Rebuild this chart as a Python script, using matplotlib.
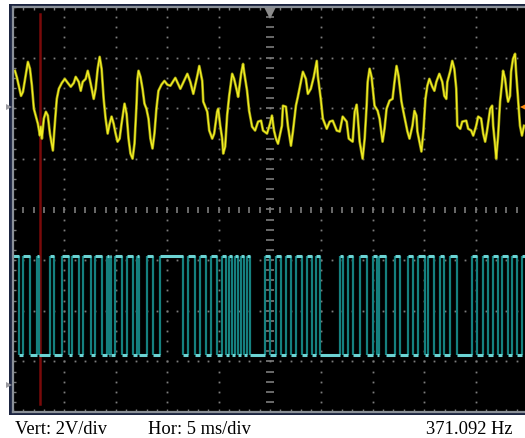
import matplotlib
matplotlib.use("Agg")
import matplotlib.pyplot as plt
import numpy as np

# ---------------- data ----------------
# Channel 1 (yellow) : time in ms, voltage in V (2 V/div, ground 2 div above centre)
ch1_t = [0.19, 0.39, 0.78, 0.97, 1.45, 1.65, 1.84, 2.03, 2.23, 2.42, 2.62, 2.71, 2.81, 3.00, 3.20,
         3.39, 3.59, 3.88, 4.07, 4.26, 4.46, 4.75, 5.04, 5.33, 5.62, 5.91, 6.10, 6.40, 6.59, 6.78,
         7.07, 7.27, 7.46, 7.66, 7.85, 8.04, 8.24, 8.43, 8.62, 8.82, 9.01, 9.21, 9.40, 9.59, 9.79,
         9.98, 10.17, 10.37, 10.56, 10.85, 11.05, 11.24, 11.43, 11.63, 11.82, 12.02, 12.11, 12.21,
         12.40, 12.60, 12.79, 12.98, 13.18, 13.37, 13.57, 13.76, 13.95, 14.15, 14.44, 14.73, 15.02,
         15.31, 15.79, 16.28, 16.96, 17.25, 17.54, 17.93, 18.12, 18.41, 18.51, 18.90, 19.09, 19.38,
         19.57, 19.86, 19.96, 20.16, 20.35, 20.45, 20.64, 20.83, 21.03, 21.32, 21.51, 21.80, 21.90,
         22.19, 22.38, 22.48, 22.77, 22.97, 23.26, 23.55, 23.84, 24.13, 24.32, 24.71, 25.00, 25.19,
         25.39, 25.58, 25.78, 26.16, 26.26, 26.55, 26.74, 27.04, 27.23, 27.52, 27.71, 28.00, 28.20,
         28.49, 28.68, 28.97, 29.26, 29.55, 29.65, 29.94, 30.14, 30.52, 30.81, 31.10, 31.49, 31.78,
         32.07, 32.46, 32.66, 33.04, 33.24, 33.43, 33.53, 33.72, 34.01, 34.21, 34.40, 34.50, 34.69,
         34.88, 35.17, 35.47, 35.66, 35.95, 36.14, 36.34, 36.63, 36.92, 37.11, 37.31, 37.50, 37.79,
         37.98, 38.18, 38.37, 38.57, 38.86, 39.05, 39.24, 39.34, 39.54, 39.73, 39.92, 40.12, 40.31,
         40.50, 40.79, 40.99, 41.18, 41.47, 41.76, 41.96, 42.15, 42.25, 42.54, 42.73, 42.93, 43.12,
         43.22, 43.51, 43.70, 44.09, 44.28, 44.57, 44.77, 45.06, 45.25, 45.54, 45.74, 45.93, 46.12,
         46.42, 46.61, 46.71, 46.90, 47.00, 47.19, 47.38, 47.58, 47.67, 47.87, 48.06, 48.16, 48.35,
         48.45, 48.64, 48.84, 48.93, 49.13, 49.32, 49.51, 49.71]
ch1_v = [1.42, 1.14, 0.43, 0.59, 1.77, 1.50, 0.83, -0.08, -0.39, -0.67, -1.14, -0.79, -1.26, -0.47, -0.20,
         -0.35, -1.06, -1.73, -0.67, 0.31, 0.71, 0.94, 1.10, 0.94, 0.79, 0.94, 1.18, 0.98, 0.63, 0.98,
         1.10, 1.42, 1.10, 0.71, 0.31, 0.71, 1.50, 1.97, 1.50, 0.31, -0.47, -1.06, -0.67, -0.39, -0.67,
         -1.06, -1.38, -1.26, -0.67, 0.12, -0.28, -1.26, -1.85, -2.05, -1.46, 0.12, 1.10, 1.42,
         1.18, 0.71, 0.12, -0.08, -0.47, -1.26, -1.65, -1.06, -0.08, 0.63, 0.87, 1.02, 0.87,
         0.83, 1.14, 0.71, 1.30, 0.98, 0.51, 1.22, 1.61, 1.02, 0.20, -0.20, -0.94, -1.26,
         -1.06, -0.20, -0.08, -0.75, -1.26, -1.85, -1.57, -0.35, 0.43, 1.30, 1.10, 0.59, 0.39,
         1.30, 1.69, 1.38, 0.63, -0.16, -0.79, -0.94, -0.59, -0.55, -0.94, -1.06, -0.67, -0.35,
         -0.94, -1.26, -1.46, -0.75, 0.04, 0.00, -0.75, -1.54, -0.98, 0.04, 0.39, 0.98, 1.38,
         1.10, 0.51, 0.71, 1.18, 1.81, 1.22, 0.31, -0.47, -0.87, -0.59, -0.55, -0.94, -0.98,
         -0.39, -0.59, -1.26, -1.38, -0.20, 0.08, -0.35, -1.38, -2.05, -1.26, 0.04, 0.98, 1.50,
         1.18, 0.04, -0.16, -0.47, -1.38, -0.87, -0.08, 0.24, 0.31, 0.98, 1.61, 1.22, 0.20,
         -0.20, -0.59, -0.98, -1.26, -0.75, -0.16, -0.35, -0.98, -1.38, -1.77, -0.98, 0.31, 0.83,
         1.10, 0.79, 0.63, 0.98, 1.30, 0.98, 0.43, 0.31, 0.98, 1.42, 1.81, 1.50, 0.71,
         -0.75, -0.87, -0.59, -0.55, -0.87, -0.94, -1.14, -0.75, -0.39, -0.47, -1.06, -1.38, -0.94,
         -0.08, 0.04, -0.75, -1.54, -2.05, -1.14, 0.20, 0.98, 1.42, 1.10, 0.43, 0.20, 0.43,
         1.38, 1.89, 2.09, 1.42, 0.31, -0.75, -1.14, -0.75]

# Channel 2 (cyan) : logic signal, edge times in ms (level toggles at each edge)
ch2_edges = [0.58, 0.97, 1.65, 2.34, 2.53, 3.60, 3.99, 4.77, 5.45, 5.74, 6.42, 6.81, 7.59,
             7.98, 8.66, 9.15, 9.29, 9.44, 9.58, 9.92, 10.61, 11.09, 11.68, 12.07, 12.26,
             13.04, 13.62, 14.30,
             16.54, 17.03, 17.71, 18.20, 18.78, 19.27, 19.85, 20.34, 20.72, 21.02, 21.31,
             21.60, 21.89, 22.18, 22.48, 22.77, 23.06,
             24.52, 25.01, 25.59, 26.08, 26.56, 27.05, 27.54, 28.12, 28.61, 29.10, 29.48, 29.88,
             31.82, 32.11, 32.60, 33.08, 33.76, 34.44, 35.03, 35.42, 35.61, 36.29, 37.17,
             37.66, 38.43, 38.92, 39.41, 40.09, 40.38, 40.96, 41.55, 41.94, 42.52, 43.20,
             44.66, 45.15, 45.73, 46.22, 46.70, 47.19, 47.58, 48.16, 48.55, 49.04, 49.53]
ch2_high = 5.1
ch2_low = 1.2
ch2_start_high = True

# screen settings
volts_per_div = 2.0
ms_per_div = 5.0
ch1_offset_div = 2.03
ch2_offset_div = -3.47
cursor_t = 2.63
readouts = ["Vert: 2V/div", "Hor: 5 ms/div", "371.092 Hz"]

# ---------------- figure ----------------
W, H = 525, 439
fig = plt.figure(figsize=(W / 100, H / 100), dpi=100, facecolor="white")

# navy frame behind the screen
frame = fig.add_axes([9 / W, (H - 416) / H, 1.0, (416 - 5) / H])
frame.set_facecolor("#1b2440")
frame.set_xticks([]); frame.set_yticks([])
for s in frame.spines.values():
    s.set_visible(False)

ax = fig.add_axes([13 / W, (H - 413) / H, (527 - 13) / W, (413 - 8) / H])
ax.set_facecolor("black")
ax.set_xlim(0, 10 * ms_per_div)
ax.set_ylim(-4, 4)
ax.set_xticks([]); ax.set_yticks([])
for s in ax.spines.values():
    s.set_color("#8a9098")
    s.set_linewidth(1.6)

grid_c = "#7c7c7c"
sub = np.arange(0, 10.001, 0.2) * ms_per_div
subv = np.arange(-4, 4.001, 0.2)
# dotted grid
for i in range(1, 10):
    if i == 5:
        continue
    xi = i * ms_per_div
    ax.plot(np.full_like(subv, xi), subv, ls="none", marker="s", ms=1.3, color=grid_c, mew=0)
for j in range(-3, 4):
    if j == 0:
        continue
    ax.plot(sub, np.full_like(sub, j), ls="none", marker="s", ms=1.3, color=grid_c, mew=0)
# centre axes with small ticks
ax.plot(sub, np.zeros_like(sub), ls="none", marker="|", ms=5, mew=1.2, color=grid_c)
ax.plot(np.full_like(subv, 5 * ms_per_div), subv, ls="none", marker="_", ms=6, mew=1.2, color=grid_c)
# border ticks
ax.plot(sub, np.full_like(sub, 4), ls="none", marker="|", ms=4, mew=1.0, color=grid_c)
ax.plot(sub, np.full_like(sub, -4), ls="none", marker="|", ms=4, mew=1.0, color=grid_c)
ax.plot(np.zeros_like(subv), subv, ls="none", marker="_", ms=4, mew=1.0, color=grid_c)

# cursor
ax.plot([cursor_t, cursor_t], [-3.84, 3.86], color="#7a0a0a", lw=1.8)

# channel 2 square wave: dark teal edges, light cyan levels
bounds = [0.0] + ch2_edges + [10 * ms_per_div]
hi_div = ch2_offset_div + ch2_high / volts_per_div
lo_div = ch2_offset_div + ch2_low / volts_per_div
ax.vlines(ch2_edges, lo_div, hi_div, color="#15807f", lw=1.6)
level_high = ch2_start_high
for a, b in zip(bounds[:-1], bounds[1:]):
    yv = hi_div if level_high else lo_div
    ax.plot([a, b], [yv, yv], color="#6cd3d3", lw=2.2, solid_capstyle="butt")
    level_high = not level_high

# channel 1 trace
y1 = ch1_offset_div + np.array(ch1_v) / volts_per_div
ax.plot(ch1_t, y1, color="#8a8a10", lw=2.0)
ax.plot(ch1_t, y1, color="#f2ee22", lw=1.0)

# markers
ax.plot([5 * ms_per_div], [3.88], marker="v", ms=8, color="#8a8a8a", mew=0, clip_on=False)
ax.plot([49.9], [ch1_offset_div], marker="<", ms=9, color="#ff8c10", mew=0, clip_on=False)
ax.plot([-0.35], [ch1_offset_div], marker=">", ms=4, color="#9a9aa0", mew=0, clip_on=False)
ax.plot([-0.35], [ch2_offset_div], marker=">", ms=4, color="#9a9aa0", mew=0, clip_on=False)

# readouts
fs = 13.3
base = 1 - 434 / H
fig.text(15 / W, base, readouts[0], family="Liberation Serif", fontsize=fs, va="baseline")
fig.text(148 / W, base, readouts[1], family="Liberation Serif", fontsize=fs, va="baseline")
fig.text(512 / W, base, readouts[2], family="Liberation Serif", fontsize=fs, va="baseline", ha="right")

fig.savefig("out.png", dpi=100, facecolor="white")
